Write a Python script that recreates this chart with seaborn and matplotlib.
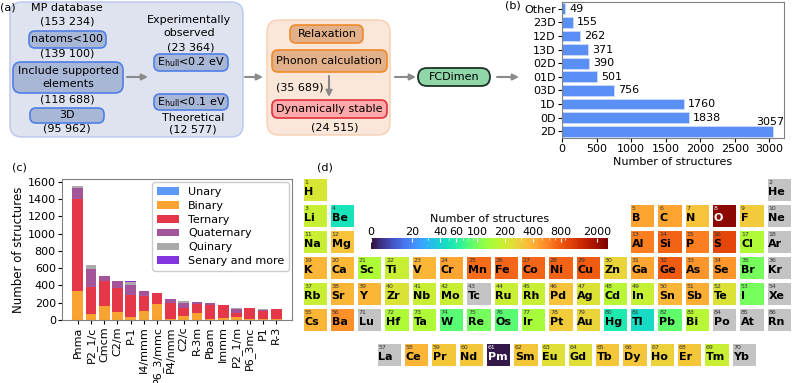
import numpy as np
import matplotlib
matplotlib.use("Agg")
import matplotlib.pyplot as plt
import seaborn as sns
from matplotlib.patches import FancyBboxPatch
from matplotlib.colors import SymLogNorm, ListedColormap
from matplotlib.cm import ScalarMappable
from matplotlib.ticker import FixedLocator

plt.rcParams['font.family'] = ['DejaVu Sans']
plt.rcParams['font.size'] = 8

# ---------------- data ----------------
# (b) dimensionality counts (top to bottom)
dims = ["Other", "23D", "12D", "13D", "02D", "01D", "03D", "1D", "0D", "2D"]
dim_counts = [49, 155, 262, 371, 390, 501, 756, 1760, 1838, 3057]

# (c) space groups stacked by number of elements
space_groups = ["Pnma", "P2_1/c", "Cmcm", "C2/m", "P-1", "I4/mmm", "P6_3/mmc", "P4/nmm",
                "C2/c", "R-3m", "Pbam", "Immm", "P2_1/m", "P6_3mc", "P1", "R-3"]
unary = [0, 0, 0, 0, 0, 0, 0, 0, 0, 0, 0, 0, 0, 0, 0, 0]
binary = [338, 66, 163, 97, 39, 105, 182, 16, 47, 78, 8, 19, 35, 16, 10, 10]
ternary = [1068, 311, 284, 272, 248, 175, 136, 178, 97, 112, 167, 152, 50, 128, 90, 114]
quaternary = [124, 213, 58, 78, 121, 54, 0, 47, 58, 20, 27, 0, 39, 0, 18, 0]
quinary = [23, 47, 0, 0, 35, 0, 0, 0, 19, 0, 0, 0, 20, 0, 6, 0]
senary = [3, 0, 0, 0, 11, 0, 0, 0, 0, 0, 0, 0, 0, 0, 0, 0]
comp_names = ["Unary", "Binary", "Ternary", "Quaternary", "Quinary", "Senary and more"]

# (d) element counts, Z = 1..86 (nan = no data)
nan = np.nan
elements = ("H He Li Be B C N O F Ne Na Mg Al Si P S Cl Ar K Ca Sc Ti V Cr Mn Fe Co Ni Cu Zn "
            "Ga Ge As Se Br Kr Rb Sr Y Zr Nb Mo Tc Ru Rh Pd Ag Cd In Sn Sb Te I Xe Cs Ba "
            "La Ce Pr Nd Pm Sm Eu Gd Tb Dy Ho Er Tm Yb Lu Hf Ta W Re Os Ir Pt Au Hg Tl Pb Bi "
            "Po At Rn").split()
element_counts = [220, nan, 190, 50, 450, 450, 330, 2300, 300, nan,
                  190, 330, 600, 750, 600, 950, 150, nan,
                  380, 370, 150, 190, 380, 450, 700, 720, 720, 750, 800, 270,
                  450, 800, 500, 500, 100, nan,
                  190, 380, 380, 230, 190, 190, nan, 190, 190, 330, 230, 165,
                  185, 380, 420, 230, 100, nan,
                  380, 520,
                  nan, 380, 320, 320, 1, 320, 240, 240, 320, 320, 280, 320, 190, nan,
                  nan, 150, 150, 85, 100, 85, 140, 300, 270, 55, 45, 90, 165,
                  nan, nan, nan]
cbar_ticks = [0, 20, 40, 60, 100, 200, 400, 800, 2000]

# ---------------- figure ----------------
W, H = 793, 383
fig = plt.figure(figsize=(W / 100, H / 100), dpi=100)

def fx(px):
    return px / W

def fy(py):
    return 1 - py / H

# ---------- (a) flowchart ----------
axa = fig.add_axes([0, fy(140), fx(540), 140 / H])
axa.set_xlim(0, 540)
axa.set_ylim(140, 0)
axa.axis('off')

def box(x0, y0, x1, y1, fc, ec, lw=1.2, r=6):
    axa.add_patch(FancyBboxPatch((x0, y0), x1 - x0, y1 - y0,
                                 boxstyle=f"round,pad=0,rounding_size={r}",
                                 fc=fc, ec=ec, lw=lw))

def txt(x, y, s, **kw):
    axa.text(x, y, s, ha='center', va='center', fontsize=8, **kw)

def arrow(x0, y0, x1, y1):
    axa.annotate('', xy=(x1, y1), xytext=(x0, y0),
                 arrowprops=dict(arrowstyle='-|>', color='#8a8a8a', lw=1.5,
                                 mutation_scale=9, shrinkA=0, shrinkB=0))

blue_fc, blue_ec = '#a9b7d7', '#4f7fe6'
box(10, 2, 243, 137, '#dfe3ef', '#b8c6f0', lw=1.0, r=12)
txt(67, 8, 'MP database')
txt(67, 21, '(153 234)')
box(29, 31, 106, 48, blue_fc, blue_ec)
txt(67, 39.5, 'natoms<100')
txt(67, 53, '(139 100)')
box(13, 62, 123, 93, blue_fc, blue_ec, r=8)
txt(68, 71, 'Include supported')
txt(68, 84, 'elements')
txt(67, 99, '(118 688)')
box(30, 108, 104, 123, blue_fc, blue_ec)
txt(67, 115.5, '3D')
txt(67, 128, '(95 962)')
txt(189, 20, 'Experimentally')
txt(189, 33, 'observed')
txt(191, 47, '(23 364)')
box(154, 54, 228, 71, blue_fc, blue_ec)
txt(191, 62.5, r'E$_{\mathrm{hull}}$<0.2 eV')
box(154, 94, 228, 110, blue_fc, blue_ec)
txt(191, 102, r'E$_{\mathrm{hull}}$<0.1 eV')
txt(193, 118, 'Theoretical')
txt(193, 129, '(12 577)')
arrow(127, 77, 148, 77)
arrow(245, 77, 263, 77)

box(267, 20, 390, 135, '#fbe6da', '#f8cfb2', lw=1.0, r=12)
box(290, 25, 363, 43, '#e2b089', '#f08a28')
txt(327, 34, 'Relaxation')
box(272, 50, 387, 72, '#e2b089', '#f08a28')
txt(329, 61, 'Phonon calculation')
txt(300, 87, '(35 689)')
arrow(329, 76, 329, 97)
box(272, 100, 387, 118, '#ffaaaa', '#e0303c')
txt(329, 109, 'Dynamically stable')
txt(335, 127, '(24 515)')
arrow(395, 77, 416, 77)
box(418, 68, 490, 86, '#8fd6a8', '#1e3326', lw=1.3, r=9)
txt(454, 77, 'FCDimen')
arrow(497, 77, 519, 77)
axa.text(0, 7, '(a)', ha='left', va='center', fontsize=8)
axa.text(505, 6, '(b)', ha='left', va='center', fontsize=8)

spine_c = '#808080'

# ---------- (b) dimensionality bars ----------
axb = fig.add_axes([fx(562), fy(138), fx(784) - fx(562), 136 / H])
sns.barplot(x=dim_counts, y=dims, orient='h', color='#5a8ff5', saturation=1,
            width=0.8, edgecolor='#cfdcfb', linewidth=0.6, ax=axb)
vmax_dim = max(dim_counts)
for i, v in enumerate(dim_counts):
    if v == vmax_dim:
        axb.annotate(str(v), (v, i), xytext=(-2, 3), textcoords='offset points',
                     ha='center', va='bottom', fontsize=8)
    else:
        axb.annotate(str(v), (v, i), xytext=(3, 0), textcoords='offset points',
                     ha='left', va='center', fontsize=8)
axb.set_xlim(0, vmax_dim * 1.05)
axb.set_xticks([0, 500, 1000, 1500, 2000, 2500, 3000])
axb.set_xlabel('Number of structures', fontsize=8, labelpad=2)
axb.set_ylabel('')
axb.tick_params(labelsize=8, length=3, pad=1.5)
for s in axb.spines.values():
    s.set_color(spine_c)

# ---------- (c) stacked bars ----------
axc = fig.add_axes([fx(62), fy(320), fx(292) - fx(62), 141 / H])
layers = [unary, binary, ternary, quaternary, quinary, senary]
colors_c = ['#4f90f7', '#f99b1f', '#e4263a', '#9c4690', '#a3a3a3', '#7a22d9']
bottom = np.zeros(len(space_groups))
for name, vals, col in zip(comp_names, layers, colors_c):
    sns.barplot(x=space_groups, y=vals, bottom=bottom.copy(), color=col, saturation=1,
                width=0.8, alpha=0.92, edgecolor='none', linewidth=0, label=name, ax=axc)
    bottom += np.array(vals, dtype=float)
axc.set_xlim(-1.19, len(space_groups) + 0.19)
axc.set_ylim(0, bottom.max() * 1.05)
axc.set_yticks(range(0, 1601, 200))
axc.set_ylabel('Number of structures', fontsize=8.5, labelpad=2)
axc.tick_params(axis='x', rotation=90, labelsize=8, length=3, pad=1.5)
axc.tick_params(axis='y', labelsize=8, length=3, pad=1.5)
for s in axc.spines.values():
    s.set_color(spine_c)
axc.legend(loc='upper right', fontsize=8, labelspacing=0.35, handlelength=2.0,
           borderaxespad=0.3, framealpha=1)
fig.text(fx(12), fy(167), '(c)', fontsize=8, va='center')

# ---------- (d) periodic table ----------
norm = SymLogNorm(linthresh=20, linscale=0.4, vmin=0, vmax=2600, base=10)
cmap = plt.get_cmap('turbo')
gray_cmap = ListedColormap(['#c3c3c3'])

def position(z):
    if z == 1: return (0, 0)
    if z == 2: return (0, 17)
    if z <= 4: return (1, z - 3)
    if z <= 10: return (1, z - 5 + 12)
    if z <= 12: return (2, z - 11)
    if z <= 18: return (2, z - 13 + 12)
    if z <= 36: return (3, z - 19)
    if z <= 54: return (4, z - 37)
    if z <= 56: return (5, z - 55)
    if z <= 70: return ('lan', z - 57)
    return (5, z - 71 + 2)

main_vals = np.full((6, 18), np.nan)
main_gray = np.full((6, 18), np.nan)
lan_vals = np.full((1, 14), np.nan)
lan_gray = np.full((1, 14), np.nan)
labels_main, labels_lan = [], []
for i, (sym, cnt) in enumerate(zip(elements, element_counts)):
    z = i + 1
    r, c = position(z)
    if r == 'lan':
        if np.isnan(cnt):
            lan_gray[0, c] = 0
        else:
            lan_vals[0, c] = cnt
        labels_lan.append((0, c, z, sym, cnt))
    else:
        if np.isnan(cnt):
            main_gray[r, c] = 0
        else:
            main_vals[r, c] = cnt
        labels_main.append((r, c, z, sym, cnt))

pitch_x, pitch_y = 27.3, 26.0
axd = fig.add_axes([fx(301.5), fy(177 + 6 * pitch_y), 18 * pitch_x / W, 6 * pitch_y / H])
axl = fig.add_axes([fx(375.7), fy(342 + pitch_y), 14 * pitch_x / W, pitch_y / H])

for ax, vals, gray, labs in [(axd, main_vals, main_gray, labels_main),
                             (axl, lan_vals, lan_gray, labels_lan)]:
    sns.heatmap(gray, ax=ax, cmap=gray_cmap, cbar=False, linewidths=1.5, linecolor='white',
                xticklabels=False, yticklabels=False, vmin=0, vmax=1)
    sns.heatmap(vals, ax=ax, cmap=cmap, norm=norm, cbar=False, linewidths=1.5,
                linecolor='white', xticklabels=False, yticklabels=False)
    for (r, c, z, sym, cnt) in labs:
        dark = (not np.isnan(cnt)) and (norm(cnt) > 0.9 or norm(cnt) < 0.08)
        tc = 'white' if dark else 'black'
        nc = 'white' if dark else '#333333'
        ax.text(c + 0.1, r + 0.22, str(z), fontsize=4.5, color=nc, ha='left', va='center')
        ax.text(c + 0.1, r + 0.57, sym, fontsize=8, fontweight='bold', color=tc,
                ha='left', va='center')
    ax.tick_params(length=0)
    ax.set_xlabel('')
    ax.set_ylabel('')

fig.text(fx(317), fy(167), '(d)', fontsize=8, va='center')

cax = fig.add_axes([fx(371), fy(249), fx(608) - fx(371), 11 / H])
cb = fig.colorbar(ScalarMappable(norm=norm, cmap=cmap), cax=cax, orientation='horizontal')
cb.set_ticks(cbar_ticks)
cb.set_ticklabels([str(t) for t in cbar_ticks])
cb.outline.set_visible(False)
cax.xaxis.set_ticks_position('top')
cax.xaxis.set_label_position('top')
cb.set_label('Number of structures', fontsize=8, labelpad=3)
minor = [m * d for d in (10, 100, 1000) for m in range(2, 10)]
minor = [m for m in minor if m <= 2600 and m not in cbar_ticks]
cax.xaxis.set_minor_locator(FixedLocator(minor))
cax.tick_params(which='major', direction='in', color='white', length=3, labelsize=8, pad=1)
cax.tick_params(which='minor', direction='in', color='white', length=1.5)

fig.savefig('out.png', dpi=100)
